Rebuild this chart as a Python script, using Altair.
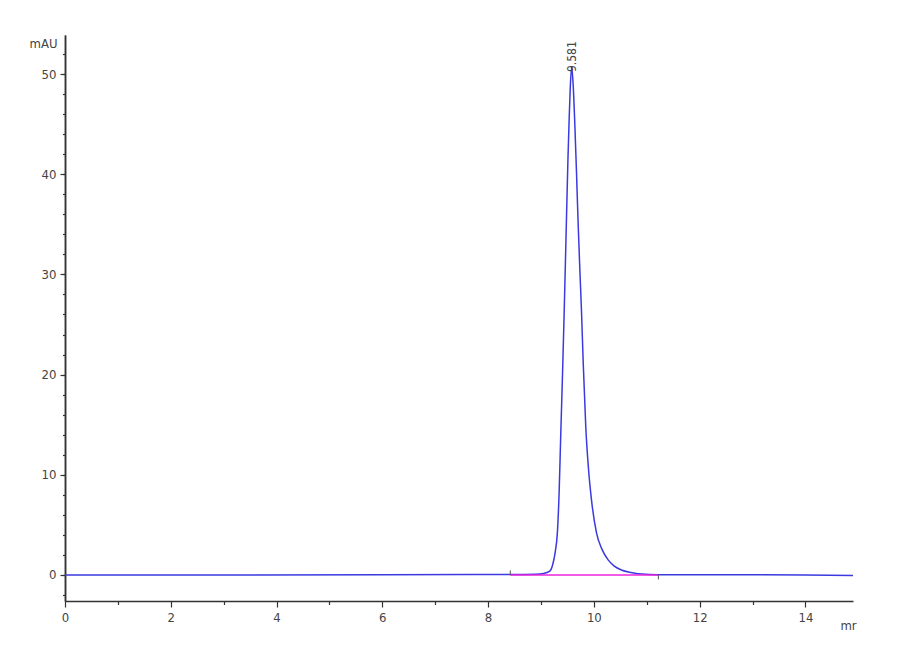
import altair as alt
import pandas as pd

# Chromatogram trace (time in min, absorbance in mAU)
time_min = [0, 3, 6, 8.42, 8.9, 9.05, 9.16, 9.22, 9.27, 9.31, 9.345, 9.375, 9.41,
            9.44, 9.475, 9.51, 9.53, 9.555, 9.581, 9.61, 9.64, 9.67, 9.70, 9.735,
            9.765, 9.80, 9.847, 9.90, 9.955, 10.05, 10.15, 10.27, 10.38, 10.52,
            10.7, 10.9, 11.22, 12, 13, 14, 14.9]
mau = [0, 0, 0.02, 0.05, 0.08, 0.15, 0.35, 1.0, 2.3, 4.2, 8.5, 14.2, 20.5,
       26.5, 34.0, 41.5, 45.0, 48.8, 50.7, 48.8, 45.0, 40.5, 35.5, 30.5,
       26.5, 21.0, 14.8, 10.5, 7.5, 4.2, 2.6, 1.5, 0.9, 0.5,
       0.25, 0.1, 0.03, 0.02, 0.02, 0.0, -0.05]

# Integration baseline
base_start = [8.42]
base_end = [11.22]
base_level = [0.0]

# Peak annotation
peak_time = [9.581]
peak_height = [50.7]
peak_label = ["9.581"]

x_ticks = [i * 0.5 for i in range(0, 30)]
y_major = [0, 10, 20, 30, 40, 50]
y_minor = list(range(-2, 54, 2))

FONT = "DejaVu Sans Condensed, Liberation Sans Narrow, Liberation Sans"

trace = pd.DataFrame({"t": time_min, "v": mau})
base = pd.DataFrame({"t": base_start, "t2": base_end, "v": base_level})
marks = pd.DataFrame({"t": base_start + base_end, "v": [0.0, 0.0],
                      "v2": [0.45, -0.45]})
peak = pd.DataFrame({"t": peak_time, "v": peak_height, "label": peak_label})

xscale = alt.Scale(domain=[0, 14.9], nice=False, zero=False)
yscale = alt.Scale(domain=[-2.6, 53.9], nice=False, zero=False)

xaxis = alt.Axis(
    values=x_ticks,
    labelExpr="datum.value % 2 === 0 ? datum.label : ''",
    labelOverlap=False,
    labelFlush=False,
    format="d",
    tickSize={"condition": {"test": "datum.value % 2 === 0", "value": 6}, "value": 3.5},
    labelPadding=4,
    title="mr",
    titleX=783, titleY=24, titleAngle=0, titleAlign="center",
    titleBaseline="middle",
    titleFontWeight="normal", titleFont=FONT, titleFontSize=13, titleColor="#444",
)
yaxis_major = alt.Axis(
    orient="left",
    values=y_major,
    labelOverlap=False,
    format="d",
    tickSize=5,
    labelPadding=4,
    title="mAU",
    titleX=-22, titleY=8, titleAngle=0, titleAlign="center",
    titleBaseline="middle",
    titleFontWeight="normal", titleFont=FONT, titleFontSize=13, titleColor="#444",
)
yaxis_minor = alt.Axis(
    orient="left",
    values=y_minor,
    labels=False,
    tickSize=2.5,
    title=None,
)

line = alt.Chart(trace).mark_line(
    color="#3a3ae0", strokeWidth=1.5, interpolate="monotone"
).encode(
    x=alt.X("t:Q", scale=xscale, axis=xaxis),
    y=alt.Y("v:Q", scale=yscale, axis=yaxis_major),
)

baseline = alt.Chart(base).mark_rule(color="#ee22dd", strokeWidth=1.5).encode(
    x=alt.X("t:Q", scale=xscale), x2="t2:Q",
    y=alt.Y("v:Q", scale=yscale, axis=yaxis_minor),
)

endmarks = alt.Chart(marks).mark_rule(color="#555", strokeWidth=1).encode(
    x=alt.X("t:Q", scale=xscale), y=alt.Y("v:Q", scale=yscale, axis=None), y2="v2:Q"
)

label = alt.Chart(peak).mark_text(
    angle=270, align="left", baseline="middle", font=FONT, fontSize=12,
    color="#444", dx=-5
).encode(x=alt.X("t:Q", scale=xscale),
         y=alt.Y("v:Q", scale=yscale, axis=None), text="label:N")

chart = alt.layer(line, baseline, endmarks, label).resolve_axis(
    y="independent"
).properties(
    width=788, height=566,
    autosize=alt.AutoSizeParams(type="none"),
    padding={"left": 57, "top": 27, "right": 30, "bottom": 40},
).configure_view(stroke=None).configure_axis(
    grid=False,
    domainColor="#333", domainWidth=1.5,
    tickColor="#333", tickWidth=1.2,
    labelColor="#444", labelFont=FONT, labelFontSize=13,
)

chart.save("out.html", embed_options={"renderer": "svg", "actions": False})
